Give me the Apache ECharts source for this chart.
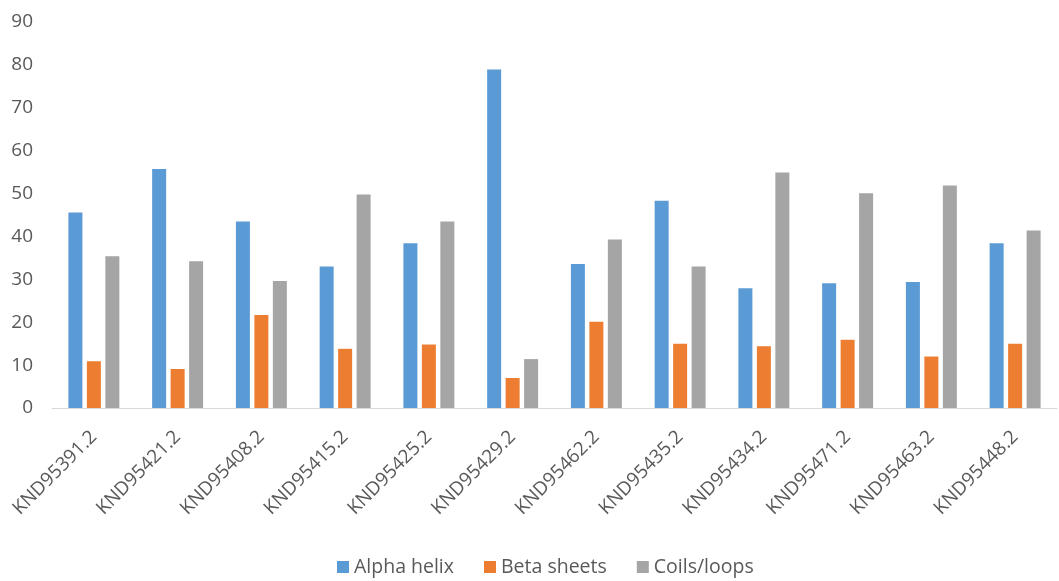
<!DOCTYPE html>
<html>
<head>
<meta charset="utf-8">
<script src="https://cdn.jsdelivr.net/npm/echarts@6/dist/echarts.min.js"></script>
<style>
  html, body { margin: 0; padding: 0; background: #ffffff; }
  #chart { width: 1059px; height: 581px; }
</style>
</head>
<body>
<div id="chart"></div>
<script>
// Protein accessions along the x axis
const categories = [
  'KND95391.2', 'KND95421.2', 'KND95408.2', 'KND95415.2', 'KND95425.2', 'KND95429.2',
  'KND95462.2', 'KND95435.2', 'KND95434.2', 'KND95471.2', 'KND95463.2', 'KND95448.2'
];

// Secondary-structure composition (%) per protein
const alphaHelix  = [45.6, 55.7, 43.5, 33.0, 38.4, 78.9, 33.6, 48.3, 27.9, 29.1, 29.4, 38.4];
const betaSheets  = [10.9,  9.1, 21.7, 13.8, 14.8,  7.0, 20.1, 15.0, 14.4, 15.9, 12.0, 15.0];
const coilsLoops  = [35.4, 34.2, 29.6, 49.8, 43.5, 11.4, 39.3, 33.0, 54.9, 50.1, 51.9, 41.4];

const seriesNames = ['Alpha helix', 'Beta sheets', 'Coils/loops'];
const seriesColors = ['#5B9BD5', '#ED7D31', '#A5A5A5'];
const seriesData = [alphaHelix, betaSheets, coilsLoops];

const textColor = '#595959';
const fontFamily = '"Open Sans", "Noto Sans", sans-serif';

const chart = echarts.init(document.getElementById('chart'), null, { renderer: 'canvas' });

chart.setOption({
  backgroundColor: '#ffffff',
  animation: false,
  textStyle: { fontFamily: fontFamily, color: textColor },
  grid: { left: 52, right: 2, top: 22, bottom: 173, containLabel: false },
  legend: {
    data: seriesNames,
    left: 332,
    bottom: -1,
    icon: 'rect',
    itemWidth: 12,
    itemHeight: 12,
    itemGap: 30,
    textStyle: { fontFamily: fontFamily, fontSize: 19.5, color: textColor }
  },
  xAxis: {
    type: 'category',
    data: categories,
    axisLine: { show: true, lineStyle: { color: '#D9D9D9', width: 1 } },
    axisTick: { show: false },
    axisLabel: {
      rotate: 45,
      interval: 0,
      margin: 26,
      fontFamily: fontFamily,
      fontSize: 19,
      color: textColor
    }
  },
  yAxis: {
    type: 'value',
    min: 0,
    max: 90,
    interval: 10,
    axisLine: { show: false },
    axisTick: { show: false },
    splitLine: { show: false },
    axisLabel: {
      margin: 19,
      fontFamily: fontFamily,
      fontSize: 19,
      color: textColor
    }
  },
  series: seriesData.map((values, i) => ({
    name: seriesNames[i],
    type: 'bar',
    data: values,
    barWidth: 14,
    barGap: '32%',
    itemStyle: { color: seriesColors[i] }
  }))
});
</script>
</body>
</html>
